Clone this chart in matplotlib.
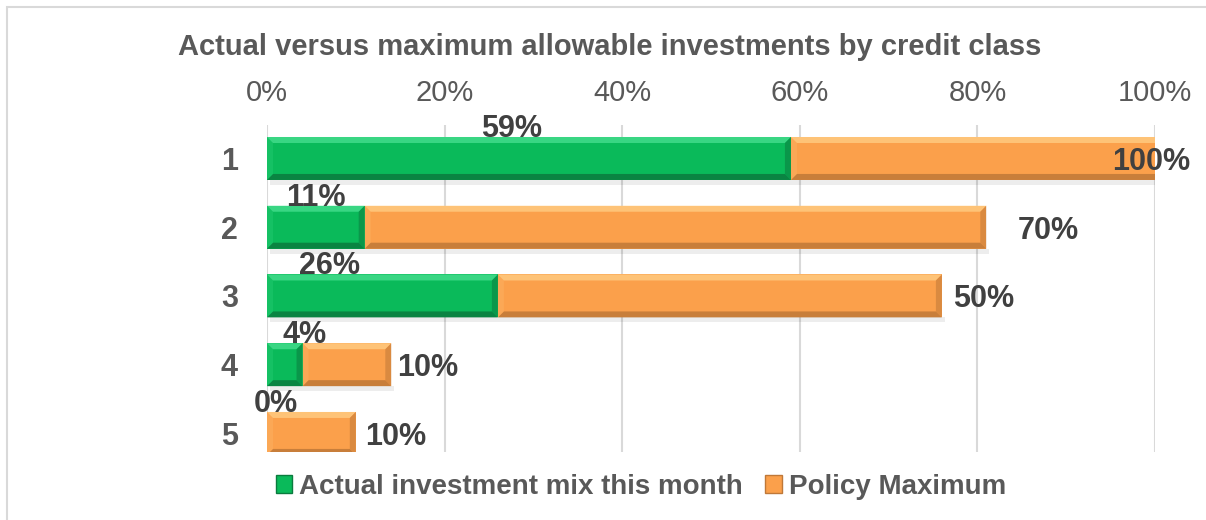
import matplotlib

matplotlib.use("Agg")
import matplotlib.pyplot as plt
from matplotlib.patches import Patch, Polygon, Rectangle

plt.rcParams["font.family"] = ["Liberation Sans", "DejaVu Sans"]

# credit classes and percentages
classes = ["1", "2", "3", "4", "5"]
actual_mix = [59, 11, 26, 4, 0]
policy_max = [100, 70, 50, 10, 10]
x_ticks = [0, 20, 40, 60, 80, 100]

# where the value labels sit (x, in percent)
actual_label_x = [27.6, 5.5, 7.0, 4.2, 1.0]
policy_label_x = [95.2, 84.5, 77.3, 14.6, 11.1]

GREEN = ("#0ABA5A", "#45DE8E", "#0A7B3E")
ORANGE = ("#FBA04B", "#FFCC83", "#BF7838")
TEXT = "#595959"
LABEL = "#404040"
GRID = "#D9D9D9"

W, H, DPI = 1206, 520, 100
fig = plt.figure(figsize=(W / DPI, H / DPI), dpi=DPI)
ax = fig.add_axes([267 / W, 1 - 452 / H, 888 / W, 327 / H])

bar_h = 0.625
# bevel size of about 6 px, expressed in data units
dx = 6 * 100 / 888
dy = 6 / 68.75


def bevel_bar(y, x0, x1, colors):
    face, light, dark = colors
    if x1 <= x0:
        return
    top, bot = y - bar_h / 2, y + bar_h / 2
    # soft shadow under the bar
    ax.barh(y + bar_h / 2 + 0.035, x1 - x0, left=x0 + 0.3, height=0.07,
            color="#000000", alpha=0.07, linewidth=0, zorder=1.5)
    ax.barh(y, x1 - x0, left=x0, height=bar_h, color=face, linewidth=0, zorder=2)
    ex0, ex1 = x0 + dx, max(x1 - dx, x0 + dx)
    shapes = [
        ([(x0, top), (x1, top), (ex1, top + dy), (ex0, top + dy)], light, 0.8),
        ([(x0, bot), (x1, bot), (ex1, bot - dy), (ex0, bot - dy)], dark, 0.85),
        ([(x0, top), (ex0, top + dy), (ex0, bot - dy), (x0, bot)], light, 0.2),
        ([(x1, top), (ex1, top + dy), (ex1, bot - dy), (x1, bot)], dark, 0.55),
    ]
    for pts, col, a in shapes:
        ax.add_patch(Polygon(pts, closed=True, facecolor=col, edgecolor="none",
                             alpha=a, zorder=2.1))


for i, (a, p) in enumerate(zip(actual_mix, policy_max)):
    y = i + 1
    bevel_bar(y, 0, a, GREEN)
    bevel_bar(y, a, a + p, ORANGE)
    ax.text(actual_label_x[i], y - bar_h / 2, f"{a}%", ha="center", va="baseline",
            fontsize=22, fontweight="bold", color=LABEL, zorder=4)
    ax.text(policy_label_x[i], y + 0.05, f"{p}%", ha="left", va="center",
            fontsize=22, fontweight="bold", color=LABEL, zorder=4)

ax.set_xlim(0, 100)
ax.set_ylim(5.27, 0.513)
ax.set_xticks(x_ticks)
ax.set_xticklabels([f"{t}%" for t in x_ticks])
ax.set_yticks(range(1, len(classes) + 1))
ax.set_yticklabels(classes, fontweight="bold")
ax.xaxis.tick_top()
ax.tick_params(axis="x", length=0, pad=13, labelsize=21, labelcolor=TEXT)
ax.tick_params(axis="y", length=0, pad=21, labelsize=22, labelcolor=TEXT)
ax.grid(axis="x", color=GRID, linewidth=1.5, zorder=0)
ax.set_axisbelow(True)
for side in ax.spines.values():
    side.set_visible(False)

fig.text(610 / W, 1 - 55 / H, "Actual versus maximum allowable investments by credit class",
         ha="center", va="baseline", fontsize=21, fontweight="bold", color=TEXT)

handles = [
    Patch(facecolor=GREEN[0], edgecolor=GREEN[2], linewidth=1),
    Patch(facecolor=ORANGE[0], edgecolor=ORANGE[2], linewidth=1),
]
leg = fig.legend(handles, ["Actual investment mix this month", "Policy Maximum"],
                 loc="center", bbox_to_anchor=(641 / W, 1 - 487 / H), ncol=2,
                 frameon=False, fontsize=20, handlelength=0.6, handleheight=0.6,
                 handletextpad=0.25, columnspacing=0.8, borderaxespad=0)
for t in leg.get_texts():
    t.set_color(TEXT)
    t.set_fontweight("bold")

# light outer frame
fig.add_artist(Rectangle((7 / W, -0.1), 2, 1.1 - 7 / H, transform=fig.transFigure,
                         fill=False, edgecolor=GRID, linewidth=1.5))

fig.savefig("out.png", dpi=DPI)
